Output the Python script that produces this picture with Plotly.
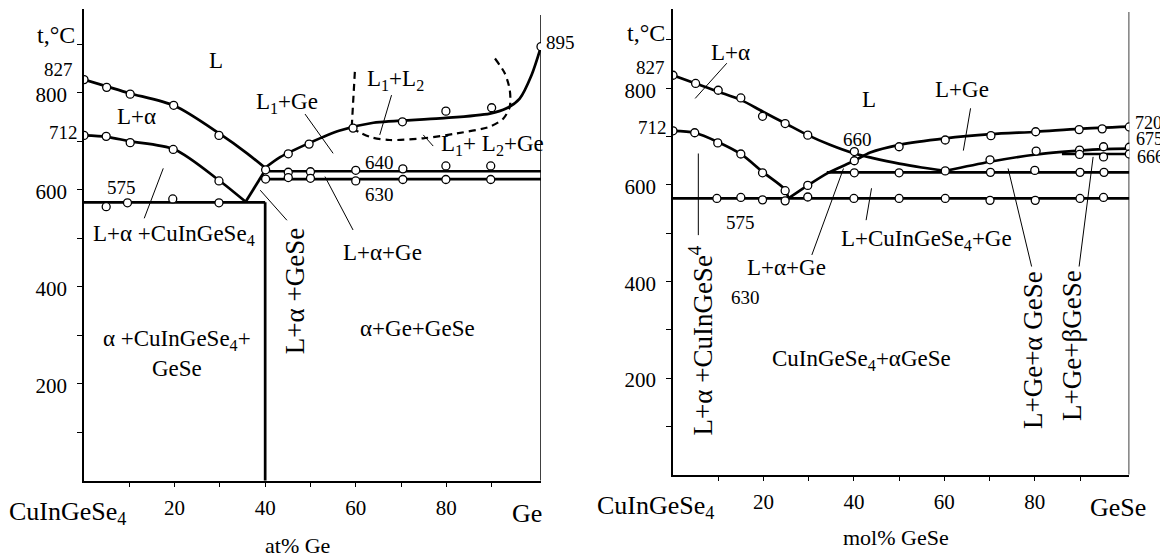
import plotly.graph_objects as go

FONT = "'Liberation Serif', 'Times New Roman', Times, 'DejaVu Serif', serif"
W, H = 1168, 559
OFF = 8  # default page (body) margin of the written html page

# ================= LEFT PANEL: CuInGeSe4 - Ge (at% Ge) =================
L_liqA_x = [0, 5, 10, 20, 30, 36, 40]
L_liqA_y = [827, 813, 799, 773, 715, 675, 645]
L_solA_x = [0, 5, 10, 20, 30, 35.7]
L_solA_y = [712, 709, 700, 683, 618, 575]
L_rise_x = [35.7, 40]
L_rise_y = [575, 640]
L_liqG_x = [40, 43.3, 49.7, 56.5, 63.9, 78.6, 89.6, 93.3, 96.2, 98.8, 100.9]
L_liqG_y = [645, 667, 696, 722, 738, 747, 757, 768, 788, 836, 895]
L_gapS_x = [59.8, 59.1]
L_gapS_y = [843, 727]
L_gap_x = [59.1, 63.1, 67.5, 74.9, 82.3, 89.6, 92.6, 94, 94, 92.9, 90.7]
L_gap_y = [727, 709, 702.5, 706, 716, 730, 747, 771, 806, 840, 871]
L_t575, L_t640, L_t630 = 574, 638, 622
L_x40, L_xGe = 40, 100.9
L_top = 960

L_p1_x = [0, 5, 10.2, 19.8, 29.8, 40.1]
L_p1_y = [827, 811, 797, 774, 712, 641]
L_p2_x = [0, 4.9, 10.2, 19.7, 29.8, 40.1]
L_p2_y = [712, 710, 697, 683, 618, 622]
L_p3_x = [4.9, 9.6, 19.6, 29.8]
L_p3_y = [565, 573, 581, 573]
L_p4_x = [45.1, 49.7, 59.4, 70.3, 79.9, 90, 100.9]
L_p4_y = [674, 694, 727, 740, 762, 769, 895]
L_p5_x = [45.1, 50, 60, 70.4, 79.9, 89.8]
L_p5_y = [636, 637, 640, 643, 649, 649]
L_p6_x = [45.1, 50, 60, 70.4, 79.9, 89.8]
L_p6_y = [625, 623.5, 618, 621, 621, 621]

# ================= RIGHT PANEL: CuInGeSe4 - GeSe (mol% GeSe) =================
R_liqA_x = [0, 5, 10, 15, 19.8, 24.8, 29.8, 34.7, 40.1, 44, 50, 55, 60.2]
R_liqA_y = [827, 810, 793, 776, 752, 727.5, 703, 683, 665, 656, 644, 636, 629]
R_low_x = [60.2, 70.1, 80.3, 89.9, 95.2, 100.9]
R_low_y = [629, 648, 663, 671, 674, 675]
R_solA_x = [0, 4.8, 9.9, 15, 19.8, 24.8, 25.5]
R_solA_y = [712, 708, 689, 664, 627, 590, 572]
R_liqG_x = [25.5, 29.8, 34.3, 40.1, 43.6, 50, 60.2, 70.3, 80.4, 89.8, 100.9]
R_liqG_y = [572, 599, 625, 650, 667, 683, 696.5, 705, 710, 716, 720.5]
R_t666_x = [86, 100.9]
R_t666 = 664
R_t630_x = [34, 100.9]
R_t630 = 626
R_t575 = 572
R_xGe = 100.9
R_top = 958

R_p1_x = [0, 5, 10, 15, 19.8, 24.8, 29.8, 40.1]
R_p1_y = [827, 810, 796, 780, 742, 727, 703, 669]
R_p2_x = [0, 4.8, 9.9, 15, 19.8, 24.8, 29.8, 40.1]
R_p2_y = [712, 708, 687, 664, 625, 588, 599, 650]
R_p3_x = [50, 60.2, 70.3, 80.2, 89.8, 94.9, 100.9]
R_p3_y = [679, 693, 702, 710, 714.5, 716, 720]
R_p4_x = [60.2, 70.1, 80.3, 89.9, 95.2, 100.9, 89.9, 95.2, 100.9]
R_p4_y = [629, 652, 670, 672, 679, 678, 663, 658, 664]
R_p5_x = [40.1, 50, 70.2, 80, 90, 95.3]
R_p5_y = [625, 625, 626, 630, 626, 626]
R_p6_x = [9.7, 15, 19.8, 24.8, 29.8, 40, 50, 60.2, 70.1, 80.1, 90, 95.2]
R_p6_y = [572, 574, 569, 567, 575, 572, 572, 572, 568, 568, 572, 574]

x_major = [20, 40, 60, 80]
x_minor = [10, 30, 50, 70, 90]
y_major = [200, 400, 600, 800]
y_minor = [100, 300, 500, 700, 900]

# plot-area placement on screen: left px, right px, bottom px, px per degree, y top
L_box = dict(l=84, r=541, b=480.7, k=0.4850, ytop=972)
R_box = dict(l=673, r=1129.3, b=474.7, k=0.4830, ytop=964)
XR = [0, 100.9]

fig = go.Figure()
LW = 2.7


def line(xs, ys, ax, shape="spline", dash="solid", width=LW, smoothing=0.8):
    fig.add_trace(go.Scatter(x=xs, y=ys, mode="lines", xaxis=ax[0], yaxis=ax[1],
                             line=dict(color="black", width=width, shape=shape,
                                       smoothing=smoothing, dash=dash),
                             hoverinfo="skip", showlegend=False))


def pts(xs, ys, ax):
    fig.add_trace(go.Scatter(x=xs, y=ys, mode="markers", xaxis=ax[0], yaxis=ax[1],
                             marker=dict(symbol="circle", size=8, color="white",
                                         line=dict(color="black", width=1.3)),
                             hoverinfo="skip", showlegend=False))


A1 = ("x", "y")
A2 = ("x2", "y2")

line(L_liqA_x, L_liqA_y, A1)
line(L_solA_x, L_solA_y, A1)
line(L_rise_x, L_rise_y, A1, shape="linear")
line(L_liqG_x, L_liqG_y, A1)
line(L_gapS_x, L_gapS_y, A1, shape="linear", dash="7px,5px", width=2.2)
line(L_gap_x, L_gap_y, A1, dash="7px,5px", width=2.2)
line([0, L_x40], [L_t575, L_t575], A1, shape="linear")
line([L_x40, L_xGe], [L_t640, L_t640], A1, shape="linear")
line([L_x40, L_xGe], [L_t630, L_t630], A1, shape="linear")
line([L_x40, L_x40], [L_t575, 0], A1, shape="linear")
line([L_xGe, L_xGe], [0, L_top], A1, shape="linear", width=1.5)

line(R_liqA_x, R_liqA_y, A2)
line(R_low_x, R_low_y, A2)
line(R_solA_x, R_solA_y, A2)
line(R_liqG_x, R_liqG_y, A2)
line(R_t666_x, [R_t666, R_t666], A2, shape="linear")
line(R_t630_x, [R_t630, R_t630], A2, shape="linear")
line([0, R_xGe], [R_t575, R_t575], A2, shape="linear")
line([R_xGe, R_xGe], [0, R_top], A2, shape="linear", width=1.5)

for xs, ys in [(L_p1_x, L_p1_y), (L_p2_x, L_p2_y), (L_p3_x, L_p3_y),
               (L_p4_x, L_p4_y), (L_p5_x, L_p5_y), (L_p6_x, L_p6_y)]:
    pts(xs, ys, A1)
for xs, ys in [(R_p1_x, R_p1_y), (R_p2_x, R_p2_y), (R_p3_x, R_p3_y),
               (R_p4_x, R_p4_y), (R_p5_x, R_p5_y), (R_p6_x, R_p6_y)]:
    pts(xs, ys, A2)

L_leaders = [(48.8, 756, 55, 675), (67.9, 795, 65.3, 713), (74.9, 713, 77.1, 690),
             (53.2, 627, 59.4, 517), (17.5, 644, 13.3, 541), (38.9, 599, 44.8, 537)]
R_leaders = [(11.9, 852, 4.9, 779), (65.8, 758.6, 64.2, 671), (43.9, 593, 42.7, 527),
             (37.7, 634, 30.7, 455), (5.6, 665, 5.6, 496), (74.1, 634, 79.3, 431),
             (92.9, 658, 89.8, 431)]
shapes = []
for (x0, y0, x1, y1) in L_leaders:
    shapes.append(dict(type="line", xref="x", yref="y", x0=x0, y0=y0, x1=x1, y1=y1,
                       line=dict(color="black", width=1)))
for (x0, y0, x1, y1) in R_leaders:
    shapes.append(dict(type="line", xref="x2", yref="y2", x0=x0, y0=y0, x1=x1, y1=y1,
                       line=dict(color="black", width=1)))

ann = []


def scr_to_paper(px, py):
    return (px - OFF) / W, 1 - (py - OFF) / H


def to_paper(x, y, box):
    px = box["l"] + (x - XR[0]) / (XR[1] - XR[0]) * (box["r"] - box["l"])
    py = box["b"] - y * box["k"]
    return scr_to_paper(px, py)


def txt(t, x, y, box, size=23, angle=0):
    xp, yp = to_paper(x, y, box)
    ann.append(dict(text=t, x=xp, y=yp, xref="paper", yref="paper", showarrow=False,
                    textangle=angle, xanchor="center", yanchor="middle",
                    font=dict(family=FONT, size=size, color="black")))


# left panel labels
txt("t,°C", -6.2, 919, L_box, 24)
txt("827", -5.7, 847, L_box, 19)
txt("712", -4.5, 717, L_box, 19)
txt("L", 29.1, 867, L_box)
txt("L+α", 11.7, 750, L_box)
txt("L<sub>1</sub>+Ge", 44.8, 779, L_box)
txt("L<sub>1</sub>+L<sub>2</sub>", 68.7, 826, L_box)
txt("L<sub>1</sub>+ L<sub>2</sub>+Ge", 90.2, 692, L_box)
txt("640", 65.3, 657, L_box, 19)
txt("630", 65.3, 591, L_box, 19)
txt("L+α+Ge", 65.9, 471, L_box)
txt("575", 8.2, 605, L_box, 19)
txt("L+α +CuInGeSe<sub>4</sub>", 19.8, 506, L_box)
txt("L+α +GeSe", 46.6, 391, L_box, 27, -90)
txt("α +CuInGeSe<sub>4</sub>+<br>GeSe", 20.5, 262, L_box)
txt("α+Ge+GeSe", 73.6, 314, L_box)
txt("895", 105.3, 904, L_box, 19)

# right panel labels
txt("t,°C", -6.0, 914, R_box, 24)
txt("827", -4.9, 844, R_box, 19)
txt("712", -4.6, 718, R_box, 19)
txt("L+α", 12.8, 875, R_box)
txt("L", 43.3, 776, R_box)
txt("660", 40.8, 693, R_box, 19)
txt("575", 14.9, 523, R_box, 19)
txt("630", 16.1, 366, R_box, 19)
txt("L+α+Ge", 25.2, 430, R_box)
txt("L+CuInGeSe<sub>4</sub>+Ge", 56.1, 485.5, R_box)
txt("L+Ge", 63.8, 796.5, R_box)
txt("720", 105.1, 728, R_box, 18)
txt("675", 105.3, 695, R_box, 18)
txt("666", 105.5, 657, R_box, 18)
txt("CuInGeSe<sub>4</sub>+αGeSe", 41.7, 237.5, R_box)
txt("L+α +CuInGeSe<sup>4</sup>", 6.2, 278, R_box, 27, -90)
txt("L+Ge+α GeSe", 79.6, 258, R_box, 27, -90)
txt("L+Ge+βGeSe", 88.2, 268.5, R_box, 27, -90)


def ptxt(t, px, py, size):
    xp, yp = scr_to_paper(px, py)
    ann.append(dict(text=t, x=xp, y=yp, xref="paper", yref="paper",
                    showarrow=False, xanchor="center", yanchor="middle",
                    font=dict(family=FONT, size=size, color="black")))


ptxt("CuInGeSe<sub>4</sub>", 67, 513, 26)
ptxt("Ge", 527, 513, 26)
ptxt("at% Ge", 297.5, 545, 22)
ptxt("CuInGeSe<sub>4</sub>", 655, 507, 26)
ptxt("GeSe", 1118, 507, 26)
ptxt("mol% GeSe", 896, 537, 22)


def xax(box, anchor):
    return dict(domain=[(box["l"] - OFF) / W, (box["r"] - OFF) / W], range=XR,
                anchor=anchor, showline=True, linecolor="black", linewidth=1.5,
                ticks="outside", ticklen=5, tickwidth=1.2, tickcolor="black",
                tickmode="array", tickvals=x_major,
                ticktext=[str(v) for v in x_major],
                minor=dict(tickmode="array", tickvals=x_minor, ticks="outside",
                           ticklen=5, tickwidth=1.2, tickcolor="black",
                           showgrid=False),
                showgrid=False, zeroline=False, ticklabelstandoff=2,
                tickfont=dict(family=FONT, size=21, color="black"), fixedrange=True)


def yax(box, anchor):
    top_px = box["b"] - box["ytop"] * box["k"]
    return dict(domain=[1 - (box["b"] - OFF) / H, 1 - (top_px - OFF) / H],
                range=[0, box["ytop"]],
                anchor=anchor, showline=True, linecolor="black", linewidth=1.5,
                ticks="outside", ticklen=5, tickwidth=1.2, tickcolor="black",
                tickmode="array", tickvals=y_major,
                ticktext=[str(v) for v in y_major],
                minor=dict(tickmode="array", tickvals=y_minor, ticks="outside",
                           ticklen=5, tickwidth=1.2, tickcolor="black",
                           showgrid=False),
                showgrid=False, zeroline=False, ticklabelstandoff=6, ticklabelshift=2,
                tickfont=dict(family=FONT, size=21, color="black"), fixedrange=True)


fig.update_layout(
    width=W, height=H, margin=dict(l=0, r=0, t=0, b=0),
    paper_bgcolor="white", plot_bgcolor="white", showlegend=False,
    font=dict(family=FONT, color="black"),
    xaxis=xax(L_box, "y"), yaxis=yax(L_box, "x"),
    xaxis2=xax(R_box, "y2"), yaxis2=yax(R_box, "x2"),
    shapes=shapes, annotations=ann,
)

fig.write_html("out.html", config={"displayModeBar": False})
